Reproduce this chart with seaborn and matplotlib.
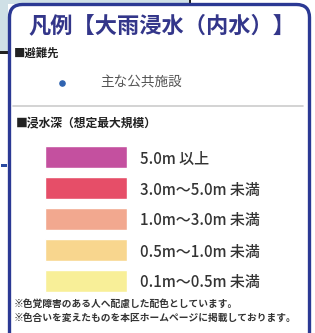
import matplotlib
matplotlib.use('Agg')
import matplotlib.pyplot as plt
from matplotlib.patches import FancyBboxPatch, Rectangle
import seaborn as sns

# legend content
title = '凡例【大雨浸水（内水）】'
shelter_head = '■避難先'
shelter_label = '主な公共施設'
depth_head = '■浸水深（想定最大規模）'
depth_labels = ['5.0m 以上', '3.0m～5.0m 未満', '1.0m～3.0m 未満',
                '0.5m～1.0m 未満', '0.1m～0.5m 未満']
depth_colors = ['#c4509f', '#e64e68', '#f2a88f', '#f8d68e', '#f8ef98']
swatch_len = [1, 1, 1, 1, 1]
notes = ['※色覚障害のある人へ配慮した配色としています。',
         '※色合いを変えたものを本区ホームページに掲載しております。']

sns.set_theme(style='white')
plt.rcParams['font.family'] = ['Noto Sans CJK JP', 'DejaVu Sans']

W, H = 315, 333
fig = plt.figure(figsize=(W / 100, H / 100), dpi=100)
fig.patch.set_facecolor('white')

# background layer in pixel coordinates
bg = fig.add_axes([0, 0, 1, 1])
bg.set_xlim(0, W)
bg.set_ylim(H, 0)
bg.axis('off')

# bits of the map showing around the panel
bg.add_patch(Rectangle((0, 0), 190, 4, color='#cfe0e6', lw=0))
bg.add_patch(Rectangle((0, 0), 8, 52, color='#cfe0e6', lw=0))
bg.add_patch(Rectangle((0, 51), 8, 3, color='#222222', lw=0))
bg.add_patch(Rectangle((189, 0), 2, 4, color='#222222', lw=0))
bg.add_patch(Rectangle((1, 164), 6, 3, color='#2a4aa0', lw=0))

# panel with rounded blue frame
panel = FancyBboxPatch((9.5, 4.5), 300, 360,
                       boxstyle='round,pad=0,rounding_size=13',
                       facecolor='white', edgecolor='#2b3994', lw=2.4)
bg.add_patch(panel)

bg.text(162, 26, title, ha='center', va='center', fontsize=16,
        fontweight='bold', color='#33368a')
bg.text(14, 53, shelter_head, ha='left', va='center', fontsize=8.2,
        fontweight='bold', color='#222222')
bg.scatter([62], [83], s=14, color='#2f63b0', zorder=3)
bg.text(100, 83, shelter_label, ha='left', va='center', fontsize=9.8,
        color='#555555')
bg.plot([13, 303], [106, 106], color='#cccccc', lw=1.2)
bg.text(16, 123, depth_head, ha='left', va='center', fontsize=8.5,
        fontweight='bold', color='#222222')
bg.text(14, 304, notes[0], ha='left', va='center', fontsize=7.0,
        fontweight='bold', color='#333333')
bg.text(14, 318, notes[1], ha='left', va='center', fontsize=7.0,
        fontweight='bold', color='#333333')

# colour swatches drawn as a horizontal bar chart
ax = fig.add_axes([45 / W, 1 - 296.5 / H, 82 / W, 155 / H])
sns.barplot(x=swatch_len, y=depth_labels, hue=depth_labels,
            palette=depth_colors, orient='h', width=0.7,
            legend=False, ax=ax, saturation=1)
ax.set_xlim(0, 1)
ax.set_xlabel('')
ax.set_ylabel('')
ax.set_xticks([])
ax.yaxis.tick_right()
ax.tick_params(axis='y', length=0, pad=9, labelsize=10.8, labelcolor='#333333')
for lbl in ax.get_yticklabels():
    lbl.set_fontweight('medium')
for s in ax.spines.values():
    s.set_visible(False)
ax.patch.set_alpha(0)

fig.savefig('out.png', dpi=100)
